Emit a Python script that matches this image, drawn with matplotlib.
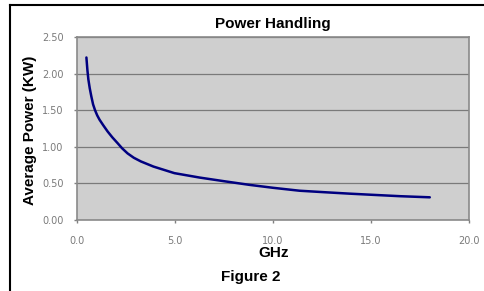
import matplotlib
matplotlib.use("Agg")
import matplotlib.pyplot as plt
from matplotlib.lines import Line2D

# frequency (GHz) and average power (KW)
ghz = [0.48, 0.53, 0.58, 0.65, 0.73, 0.82, 0.92, 1.03, 1.15, 1.35, 1.56, 1.8, 2.07,
       2.3, 2.58, 2.9, 3.26, 3.9, 4.97, 6.25, 7.5, 8.8, 10.0, 11.35, 12.6, 13.9,
       15.0, 16.5, 18.0]
power = [2.22, 2.05, 1.92, 1.80, 1.69, 1.58, 1.50, 1.43, 1.37, 1.29, 1.21, 1.13, 1.05,
         0.98, 0.91, 0.85, 0.80, 0.73, 0.64, 0.58, 0.53, 0.48, 0.44, 0.40, 0.38, 0.36,
         0.345, 0.325, 0.31]

xticks = [0, 5, 10, 15, 20]
yticks = [0, 0.5, 1.0, 1.5, 2.0, 2.5]

fig = plt.figure(figsize=(4.84, 2.91), dpi=100)
W, H = 484, 291
ax = fig.add_axes([77 / W, 1 - 220 / H, (469 - 77) / W, (220 - 37) / H])

ax.set_facecolor("#cfcfcf")
ax.plot(ghz, power, color="#000080", lw=1.8, solid_capstyle="round",
        solid_joinstyle="round")

ax.set_xlim(0, 20)
ax.set_ylim(0, 2.5)
ax.set_xticks(xticks)
ax.set_xticklabels(["%.1f" % v for v in xticks])
ax.set_yticks(yticks)
ax.set_yticklabels(["%.2f" % v for v in yticks])
ax.tick_params(axis="both", labelsize=7, labelcolor="#7a7a7a", color="#808080",
               length=2.5, width=1)
ax.tick_params(axis="x", pad=9)
ax.tick_params(axis="y", pad=7)

ax.grid(axis="y", color="#7a7a7a", lw=0.9)
ax.set_axisbelow(True)
for s in ax.spines.values():
    s.set_color("#8a8a8a")
    s.set_linewidth(1.2)

fig.text(273 / W, 1 - 24 / H, "Power Handling", ha="center", va="center",
         fontsize=11, fontweight="bold", family="Liberation Sans")
fig.text(274 / W, 1 - 253 / H, "GHz", ha="center", va="center",
         fontsize=11, fontweight="bold", family="Liberation Sans")
fig.text(251 / W, 1 - 277 / H, "Figure 2", ha="center", va="center",
         fontsize=11, fontweight="bold", family="Liberation Sans")
fig.text(30 / W, 1 - 130 / H, "Average Power (KW)", ha="center", va="center",
         rotation=90, fontsize=11, fontweight="bold", family="Liberation Sans")

# outer box edges (left and top)
fig.add_artist(Line2D([10 / W, 10 / W], [0, 1 - 5 / H], color="black", lw=1.5,
                      transform=fig.transFigure))
fig.add_artist(Line2D([10 / W, 1], [1 - 5 / H, 1 - 5 / H], color="black", lw=1.5,
                      transform=fig.transFigure))

fig.savefig("out.png", dpi=100)
